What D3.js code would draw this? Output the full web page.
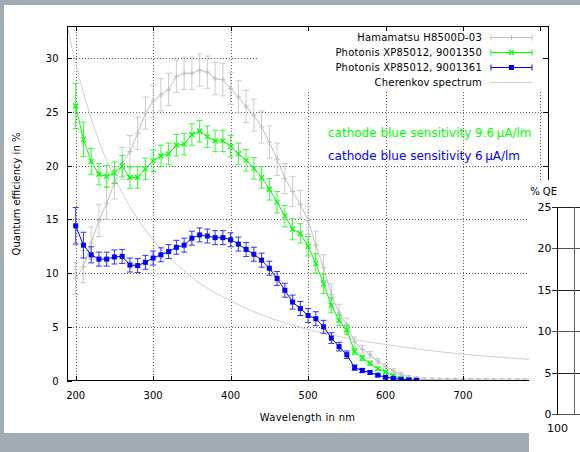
<!DOCTYPE html>
<html>
<head>
<meta charset="utf-8">
<script src="https://d3js.org/d3.v7.min.js"></script>
<style>
  * { margin: 0; padding: 0; }
  body { background: #fff; width: 580px; height: 452px; overflow: hidden; }
  svg { display: block; }
  text { font-family: 'DejaVu Sans', sans-serif; font-size: 10px; fill: #000; }
</style>
</head>
<body>
<svg id="chart" width="580" height="452"></svg>
<script>
// --- data (wavelength in nm, QE in %) ---
const hamaNm = [200,210,220,230,240,250,260,270,280,290,300,310,320,330,340,350,360,370,380,390,
                400,410,420,430,440,450,460,470,480,490,500,510,520,530,540,550,560,570,580,590,
                600,610,620,630,640,650,660,670,680,690,700,710,720,730,740,750,760,770,780,790,800];
const hamaQE = [9.5,10.6,12.8,14.9,16.5,18.4,20.2,21.3,23.0,24.9,
                26.0,26.6,27.1,28.3,28.6,28.6,28.9,28.7,28.1,28.0,
                27.2,26.4,25.5,24.7,23.6,22.2,20.6,18.8,17.6,16.4,
                14.9,12.6,10.5,8.0,6.3,5.2,3.6,2.9,2.4,1.8,
                1.3,0.9,0.55,0.3,0.2,0.1,0.08,0.06,0.05,0.05,
                0.04,0.04,0.03,0.03,0.03,0.02,0.02,0.02,0.02,0.02,0.02];
const hamaErr = [1.5,1.5,1.5,1.5,1.5,1.5,1.5,1.5,1.5,1.5,
                 1.5,1.5,1.5,1.5,1.5,1.5,1.5,1.5,1.5,1.5,
                 1.5,1.5,1.5,1.5,1.5,1.5,1.5,1.4,1.4,1.3,
                 1.3,1.3,1.2,1.0,0.8,0.6,0.45,0.35,0.3,0.25,
                 0.25,0.2,0.2,0.15,0.15,0.15,0.15,0.15,0.15,0.15,
                 0.15,0.15,0.15,0.15,0.15,0.15,0.15,0.15,0.15,0.15,0.15];

const xp1350Nm = [200,210,220,230,240,250,260,270,280,290,300,310,320,330,340,350,360,370,380,390,
                  400,410,420,430,440,450,460,470,480,490,500,510,520,530,540,550,560,570,580,590,
                  600,610,620,630];
const xp1350QE = [25.55,22.45,20.4,19.2,19.0,19.35,19.95,18.9,18.9,19.7,
                  20.45,20.9,21.1,21.9,22.0,22.9,23.2,22.7,22.3,22.3,
                  21.8,21.1,20.5,19.75,18.9,17.8,16.6,15.3,14.1,13.7,
                  12.5,10.9,9.0,7.0,5.6,4.7,2.7,2.1,1.6,1.1,
                  0.8,0.45,0.2,0.05];
const xp1350Err = [2.1,1.6,1.2,1.0,1.0,1.0,1.0,1.0,1.0,1.0,
                   1.0,1.0,1.0,1.0,1.0,1.0,1.0,1.0,1.0,1.0,
                   1.0,1.0,1.0,1.0,1.0,1.0,1.0,1.0,1.0,0.9,
                   0.9,0.9,0.9,0.7,0.5,0.4,0.3,0.25,0.2,0.15,
                   0.1,0.1,0.1,0.1];

const xp1361Nm = [200,210,220,230,240,250,260,270,280,290,300,310,320,330,340,350,360,370,380,390,
                  400,410,420,430,440,450,460,470,480,490,500,510,520,530,540,550,560,570,580,590,
                  600,610,620,630,640];
const xp1361QE = [14.4,12.6,11.7,11.3,11.3,11.5,11.55,10.75,10.7,11.0,
                  11.4,11.7,12.0,12.4,12.6,13.25,13.55,13.45,13.3,13.3,
                  13.1,12.7,12.2,11.75,11.2,10.45,9.5,8.4,7.3,6.7,
                  6.05,5.75,5.0,3.95,3.15,2.4,1.2,0.93,0.75,0.5,
                  0.3,0.2,0.1,0.05,0.02];
const xp1361Err = [1.7,1.2,0.75,0.65,0.65,0.65,0.65,0.65,0.65,0.65,
                   0.65,0.65,0.65,0.65,0.65,0.65,0.65,0.65,0.65,0.65,
                   0.65,0.65,0.65,0.65,0.65,0.65,0.65,0.65,0.65,0.65,
                   0.65,0.65,0.6,0.5,0.4,0.35,0.25,0.2,0.15,0.12,
                   0.1,0.08,0.05,0.05,0.05];

const cherNm = [190,200,210,220,230,250,275,300,325,350,400,450,500,550,600,650,700,750,800,810];
const cherQE = [32.7,29.5,26.8,24.4,22.3,18.9,15.6,13.1,11.2,9.6,7.4,5.85,4.75,3.95,3.35,2.85,2.45,2.15,1.9,1.85];

const xTicks = [200,300,400,500,600,700,800];
const yTicks = [0,5,10,15,20,25,30];

const legendLabels = ["Hamamatsu H8500D-03", "Photonis XP85012, 9001350",
                      "Photonis XP85012, 9001361", "Cherenkov spectrum"];
const noteLabels = ["cathode blue sensitivity 9.6\u2009\u03bcA/lm", "cathode blue sensitivity 6\u2009\u03bcA/lm"];

// inset (cut off at right edge)
const insetYTicks = [0,5,10,15,20,25];
const insetXTicks = [100];
const insetRefX = 110;
const insetPoint = {x: 112, y: 18.6};

// --- layout ---
const svg = d3.select("#chart");
const W = 580, H = 452;
const grey = "#c0c0c0";
const green = "#00ff00";
const blue = "#0000ff";

// frame background
svg.append("rect").attr("width", W).attr("height", H).attr("fill", "#fff");
svg.append("rect").attr("x", 0).attr("y", 0).attr("width", W).attr("height", 5).attr("fill", "#a1abb4");
svg.append("rect").attr("x", 0).attr("y", 0).attr("width", 4).attr("height", H).attr("fill", "#a1abb4");
svg.append("rect").attr("x", 0).attr("y", 433).attr("width", 529).attr("height", H - 433).attr("fill", "#a1abb4");

const pL = 67, pR = 548, pT = 26, pB = 380.5;
const x = d3.scaleLinear().domain([188.8, 809.7]).range([pL, pR]);
const y = d3.scaleLinear().domain([0, 33]).range([pB, pT]);

svg.append("clipPath").attr("id", "plotclip")
  .append("rect").attr("x", pL).attr("y", pT).attr("width", pR - pL).attr("height", pB - pT);

// grid
const grid = svg.append("g").attr("stroke", "#666").attr("stroke-width", 1)
  .attr("stroke-dasharray", "1,2");
grid.selectAll("line.gx").data(xTicks).join("line")
  .attr("x1", d => Math.round(x(d)) + 0.5).attr("x2", d => Math.round(x(d)) + 0.5)
  .attr("y1", pT).attr("y2", pB);
grid.selectAll("line.gy").data(yTicks.filter(d => d > 0)).join("line")
  .attr("x1", pL).attr("x2", pR)
  .attr("y1", d => Math.round(y(d)) + 0.5).attr("y2", d => Math.round(y(d)) + 0.5);

// key box hides the grid behind it
svg.append("rect").attr("x", 259).attr("y", pT + 1).attr("width", pR - 259 - 2).attr("height", 63)
  .attr("fill", "#fff");

const plot = svg.append("g").attr("clip-path", "url(#plotclip)");

// Cherenkov spectrum
plot.append("path")
  .datum(cherNm.map((d, i) => [d, cherQE[i]]))
  .attr("fill", "none").attr("stroke", "#cfcfcf").attr("stroke-width", 1)
  .attr("d", d3.line().x(d => x(d[0])).y(d => y(d[1])).curve(d3.curveMonotoneX));

function series(nm, qe, err, color, marker) {
  const pts = nm.map((d, i) => ({nm: d, v: qe[i], e: err[i]}));
  const g = plot.append("g");
  // error bars
  const eb = g.append("g").attr("stroke", color).attr("stroke-width", 1).attr("opacity", 0.8);
  eb.selectAll("path").data(pts).join("path")
    .attr("fill", "none")
    .attr("d", d => {
      const cx = x(d.nm), y0 = y(d.v - d.e), y1 = y(d.v + d.e);
      return `M${cx},${y0}V${y1}M${cx - 3},${y0}H${cx + 3}M${cx - 3},${y1}H${cx + 3}`;
    });
  g.append("path").datum(pts)
    .attr("fill", "none").attr("stroke", color).attr("stroke-width", 1)
    .attr("d", d3.line().x(d => x(d.nm)).y(d => y(d.v)));
  drawMarkers(g, pts.map(d => [x(d.nm), y(d.v)]), color, marker);
}

function drawMarkers(g, xy, color, marker) {
  if (marker === "square") {
    g.selectAll("rect.m").data(xy).join("rect")
      .attr("x", d => d[0] - 2.5).attr("y", d => d[1] - 2.5)
      .attr("width", 5).attr("height", 5).attr("fill", color);
  } else {
    const s = 2.5;
    g.selectAll("path.m").data(xy).join("path")
      .attr("fill", "none").attr("stroke", color).attr("stroke-width", 1.2)
      .attr("d", d => marker === "x"
        ? `M${d[0] - s},${d[1] - s}L${d[0] + s},${d[1] + s}M${d[0] - s},${d[1] + s}L${d[0] + s},${d[1] - s}`
        : `M${d[0] - s},${d[1]}H${d[0] + s}M${d[0]},${d[1] - s}V${d[1] + s}`);
  }
}

series(hamaNm, hamaQE, hamaErr, grey, "plus");
series(xp1350Nm, xp1350QE, xp1350Err, green, "x");
series(xp1361Nm, xp1361QE, xp1361Err, blue, "square");

// frame + ticks
const frame = svg.append("g").attr("stroke", "#000").attr("stroke-width", 1).attr("shape-rendering", "crispEdges");
frame.append("rect").attr("x", pL + 0.5).attr("y", pT + 0.5)
  .attr("width", pR - pL).attr("height", pB - pT - 0.5).attr("fill", "none");
xTicks.forEach(t => {
  const px = Math.round(x(t)) + 0.5;
  frame.append("line").attr("x1", px).attr("x2", px).attr("y1", pB).attr("y2", pB - 5);
  frame.append("line").attr("x1", px).attr("x2", px).attr("y1", pT).attr("y2", pT + 5);
});
yTicks.forEach(t => {
  const py = Math.round(y(t)) + 0.5;
  frame.append("line").attr("x1", pL).attr("x2", pL + 5).attr("y1", py).attr("y2", py);
  frame.append("line").attr("x1", pR).attr("x2", pR - 5).attr("y1", py).attr("y2", py);
});

// tick labels
svg.append("g").selectAll("text").data(xTicks).join("text")
  .attr("x", d => x(d)).attr("y", 399).attr("text-anchor", "middle").text(d => d);
svg.append("g").selectAll("text").data(yTicks).join("text")
  .attr("x", 58.5).attr("y", d => y(d) + 4).attr("text-anchor", "end").text(d => d);

// axis titles
svg.append("text").attr("x", (pL + pR) / 2).attr("y", 421).attr("text-anchor", "middle")
  .attr("letter-spacing", "0.3px").text("Wavelength in nm");
svg.append("text").attr("transform", "translate(19.5,194) rotate(-90)").attr("text-anchor", "middle")
  .text("Quantum efficiency in %");

// key
const keyRows = [37.5, 52.5, 67.5, 82.5];
const keyColors = [grey, green, blue, "#cfcfcf"];
const keyMarkers = ["plus", "x", "square", null];
const key = svg.append("g");
legendLabels.forEach((lab, i) => {
  const ky = keyRows[i];
  key.append("text").attr("x", 482).attr("y", ky + 3.5).attr("text-anchor", "end")
    .attr("letter-spacing", "0.2px").text(lab);
  key.append("path").attr("fill", "none").attr("stroke", keyColors[i]).attr("stroke-width", 1)
    .attr("d", i < 3 ? `M491,${ky}H532M491,${ky - 3}V${ky + 3}M532,${ky - 3}V${ky + 3}` : `M491,${ky}H532`);
  if (keyMarkers[i]) drawMarkers(key.append("g"), [[511.5, ky]], keyColors[i], keyMarkers[i]);
});

// notes
svg.append("text").attr("x", 328).attr("y", 137).style("font-size", "12px")
  .style("fill", green).text(noteLabels[0]);
svg.append("text").attr("x", 328).attr("y", 159.5).style("font-size", "12px")
  .style("fill", blue).text(noteLabels[1]);

// inset panel overlapping the lower right
svg.append("rect").attr("x", 529).attr("y", 180).attr("width", W - 529).attr("height", H - 180).attr("fill", "#fff");
const ix = d3.scaleLinear().domain([100, 150]).range([556.5, 645]);
const iy = d3.scaleLinear().domain([0, 25]).range([414, 206.7]);
const inset = svg.append("g").attr("shape-rendering", "crispEdges");
inset.selectAll("line.h").data(insetYTicks).join("line")
  .attr("x1", ix(100) - 5).attr("x2", W)
  .attr("y1", d => Math.round(iy(d)) + 0.5).attr("y2", d => Math.round(iy(d)) + 0.5)
  .attr("stroke", (d, i) => i % 2 ? "#222" : "#555");
inset.append("line").attr("x1", Math.round(ix(insetRefX)) + 0.5).attr("x2", Math.round(ix(insetRefX)) + 0.5)
  .attr("y1", iy(25)).attr("y2", iy(0)).attr("stroke", "#666");
inset.append("line").attr("x1", Math.round(ix(100)) + 0.5).attr("x2", Math.round(ix(100)) + 0.5)
  .attr("y1", iy(25)).attr("y2", iy(0) + 1).attr("stroke", "#000");
inset.append("line").attr("x1", ix(insetPoint.x) + 3).attr("x2", ix(insetPoint.x) + 7)
  .attr("y1", Math.round(iy(insetPoint.y)) + 0.5).attr("y2", Math.round(iy(insetPoint.y)) + 0.5).attr("stroke", "#000");
svg.append("g").selectAll("text").data(insetYTicks).join("text")
  .attr("x", 551.5).attr("y", d => iy(d) + 4).attr("text-anchor", "end").style("font-size", "11px").text(d => d);
svg.append("g").selectAll("text").data(insetXTicks).join("text")
  .attr("x", d => ix(d) + 1).attr("y", 432).attr("text-anchor", "middle").style("font-size", "11px").text(d => d);
svg.append("text").attr("x", 557).attr("y", 194.5).attr("text-anchor", "end").text("% QE");
</script>
</body>
</html>
